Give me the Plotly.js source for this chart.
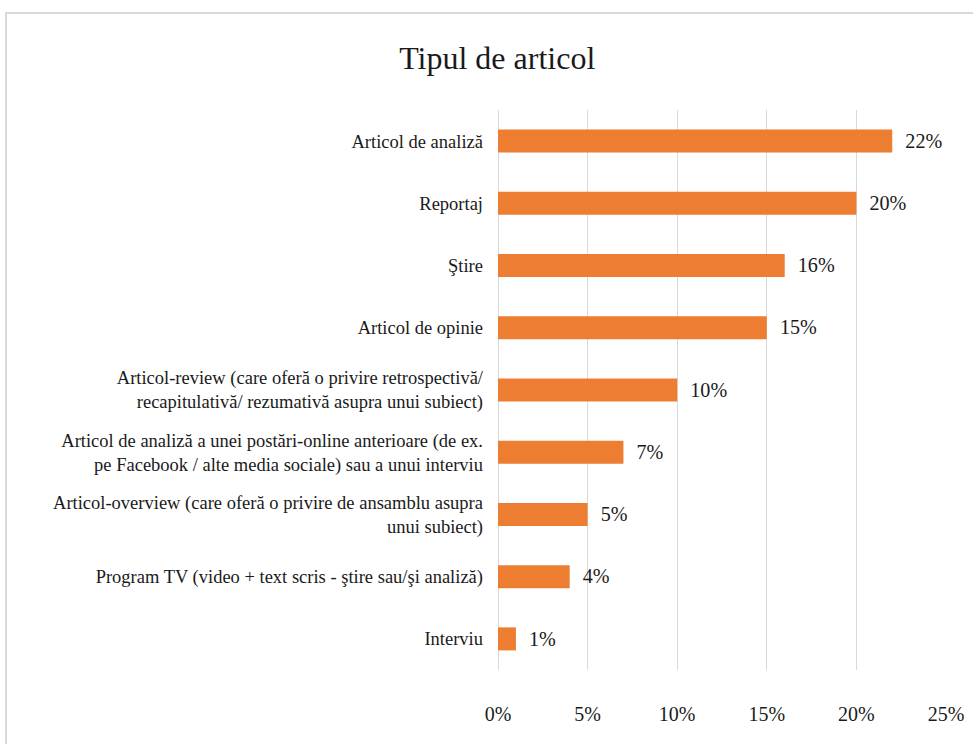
<!DOCTYPE html>
<html>
<head>
<meta charset="utf-8">
<script src="https://cdn.plot.ly/plotly-3.0.1.min.js"></script>
<style>
  html, body { margin: 0; padding: 0; background: #fff; overflow: hidden; }
  #frame { position: absolute; left: 5px; top: 12px; width: 1000px; height: 800px;
           border-left: 2px solid #d9d9d9; border-top: 2px solid #d9d9d9; }
  #chart { position: absolute; left: 0; top: 0; width: 973px; height: 744px; }
</style>
</head>
<body>
<div id="frame"></div>
<div id="chart"></div>
<script>
const categories = [
  "Articol de analiză",
  "Reportaj",
  "Ştire",
  "Articol de opinie",
  "Articol-review (care oferă o privire retrospectivă/<br>recapitulativă/ rezumativă asupra unui subiect)",
  "Articol de analiză a unei postări-online anterioare (de ex.<br>pe Facebook / alte media sociale) sau a unui interviu",
  "Articol-overview (care oferă o privire de ansamblu asupra<br>unui subiect)",
  "Program TV (video + text scris - ştire sau/şi analiză)",
  "Interviu"
];
const values = [22, 20, 16, 15, 10, 7, 5, 4, 1];
const valueLabels = ["22%", "20%", "16%", "15%", "10%", "7%", "5%", "4%", "1%"];
const tickVals = [0, 5, 10, 15, 20, 25];
const tickText = ["0%", "5%", "10%", "15%", "20%", "25%"];

const serif = "Liberation Serif, Times New Roman, serif";

Plotly.newPlot("chart", [{
  type: "bar",
  orientation: "h",
  y: categories,
  x: values,
  text: valueLabels,
  texttemplate: "\u00a0\u00a0%{text}",
  textposition: "outside",
  cliponaxis: false,
  textfont: { family: serif, size: 21, color: "#1a1a1a" },
  marker: { color: "#ED7D31" },
  hoverinfo: "none"
}], {
  width: 973,
  height: 744,
  paper_bgcolor: "rgba(0,0,0,0)",
  plot_bgcolor: "rgba(0,0,0,0)",
  margin: { l: 498, r: 27, t: 110, b: 74 },
  bargap: 0.63,
  showlegend: false,
  title: {
    text: "Tipul de articol",
    font: { family: serif, size: 32, color: "#1a1a1a" },
    x: 0.511, xanchor: "center", y: 0.922, yanchor: "middle"
  },
  xaxis: {
    range: [0, 25],
    tickvals: tickVals,
    ticktext: tickText,
    showgrid: true,
    gridcolor: "#d9d9d9",
    gridwidth: 1,
    zeroline: true,
    zerolinecolor: "#d9d9d9",
    zerolinewidth: 1,
    showline: false,
    ticks: "",
    ticklabelstandoff: 30,
    tickfont: { family: serif, size: 20, color: "#1a1a1a" },
    fixedrange: true
  },
  yaxis: {
    autorange: "reversed",
    showgrid: false,
    zeroline: false,
    showline: false,
    ticks: "",
    ticklabelstandoff: 14,
    tickfont: { family: serif, size: 18.5, color: "#1a1a1a" },
    fixedrange: true
  }
}, { staticPlot: true, displayModeBar: false });
</script>
</body>
</html>
